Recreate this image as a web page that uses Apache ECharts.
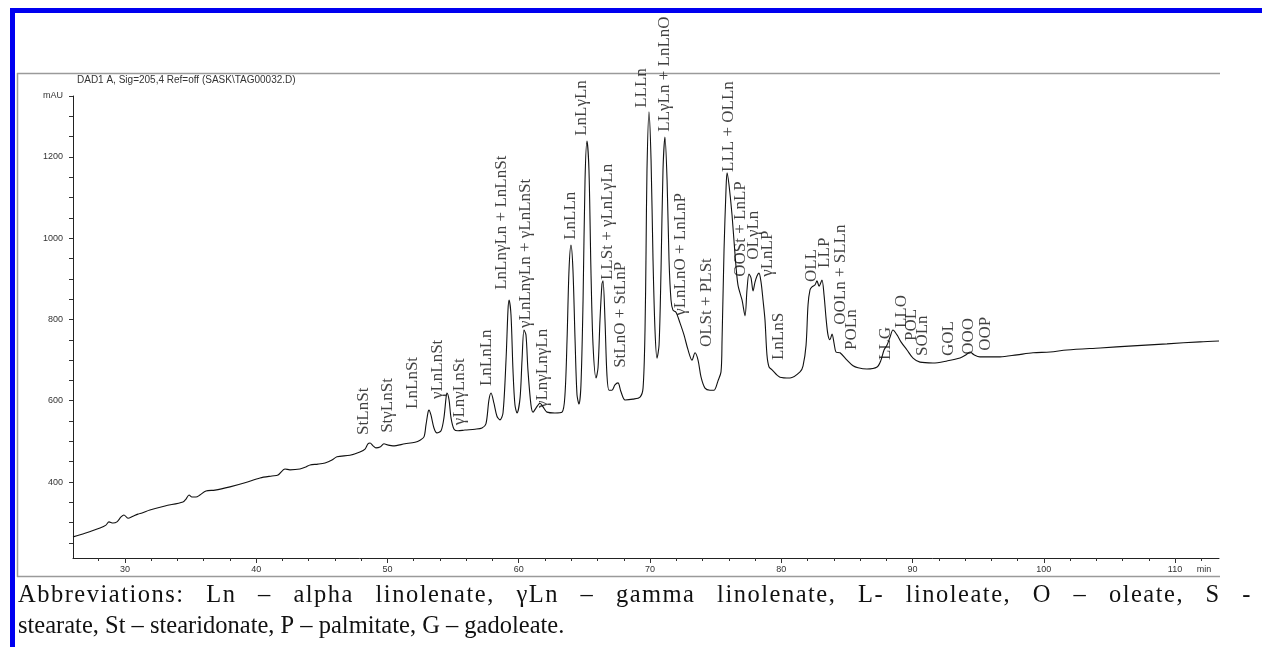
<!DOCTYPE html>
<html>
<head>
<meta charset="utf-8">
<title>TAG chromatogram</title>
<script src="https://cdn.jsdelivr.net/npm/echarts@6/dist/echarts.min.js"></script>
<style>
  html, body { margin: 0; padding: 0; background: #fff; }
  #chart { width: 1262px; height: 647px; }
</style>
</head>
<body>
<div id="chart"></div>
<script>
// retention time (min) and detector signal (mAU)
const timeMin = [
  26.04, 26.95, 28.10, 28.55, 28.78, 29.09, 29.39, 29.70, 29.92, 30.23,
  30.61, 30.99, 31.30, 31.90, 33.05, 34.42, 34.65, 34.88, 35.10, 35.41,
  35.71, 36.17, 36.86, 38.00, 39.14, 40.29, 41.20, 41.66, 42.19, 42.57,
  43.33, 43.79, 44.10, 44.70, 45.24, 45.77, 46.15, 47.14, 47.90, 48.29,
  48.51, 48.67, 48.90, 49.12, 49.43, 49.73, 50.04, 50.42, 51.33, 52.10,
  52.48, 52.78, 52.93, 53.09, 53.16, 53.31, 53.54, 53.77, 54.08, 54.30,
  54.46, 54.53, 54.69, 54.84, 55.07, 55.37, 55.90, 56.67, 57.20, 57.50,
  57.73, 57.89, 58.11, 58.34, 58.57, 58.80, 59.03, 59.18, 59.26, 59.41,
  59.56, 59.71, 59.87, 60.10, 60.25, 60.40, 60.55, 60.70, 60.93, 61.09,
  61.31, 61.62, 61.85, 62.15, 62.76, 63.30, 63.52, 63.68, 63.83, 63.98,
  64.13, 64.29, 64.44, 64.59, 64.74, 64.90, 65.05, 65.20, 65.35, 65.50,
  65.66, 65.89, 66.04, 66.19, 66.34, 66.42, 66.57, 66.72, 66.88, 67.10,
  67.33, 67.56, 67.79, 68.10, 68.70, 69.24, 69.47, 69.62, 69.70, 69.77,
  69.92, 70.08, 70.23, 70.38, 70.53, 70.69, 70.84, 70.99, 71.14, 71.30,
  71.45, 71.60, 71.75, 71.98, 72.29, 72.59, 72.90, 73.20, 73.43, 73.66,
  73.89, 74.19, 74.57, 74.88, 75.18, 75.41, 75.49, 75.64, 75.79, 75.87,
  76.02, 76.25, 76.48, 76.70, 77.01, 77.24, 77.39, 77.54, 77.70, 77.85,
  78.00, 78.15, 78.30, 78.46, 78.61, 78.76, 78.91, 79.07, 79.30, 79.90,
  80.67, 81.43, 81.66, 81.89, 82.04, 82.19, 82.34, 82.57, 82.72, 82.88,
  83.10, 83.26, 83.41, 83.56, 83.71, 83.87, 84.02, 84.17, 84.48, 85.01,
  85.47, 85.85, 86.53, 87.30, 87.60, 87.83, 88.06, 88.29, 88.51, 88.82,
  89.12, 89.58, 90.04, 90.57, 91.56, 92.63, 93.62, 94.08, 94.38, 94.69,
  95.14, 95.90, 96.67, 97.96, 99.18, 100.48, 101.77, 104.29, 106.80, 109.39,
  111.90, 113.35
];
const signalMau = [
  265, 274, 287, 294, 302, 299, 302, 314, 319, 311,
  316, 321, 324, 331, 341, 351, 358, 368, 363, 363,
  368, 378, 380, 388, 398, 410, 415, 417, 432, 430,
  432, 437, 442, 444, 447, 454, 462, 466, 474, 481,
  494, 496, 489, 484, 486, 494, 491, 489, 494, 498,
  503, 511, 540, 572, 577, 565, 533, 521, 526, 558,
  607, 619, 602, 558, 530, 526, 528, 530, 533, 543,
  602, 619, 594, 562, 553, 570, 700, 823, 848, 811,
  676, 590, 570, 607, 700, 774, 762, 676, 590, 572,
  582, 594, 585, 572, 570, 572, 614, 750, 922, 983,
  922, 750, 614, 592, 639, 848, 1143, 1239, 1168, 922,
  737, 656, 681, 799, 887, 895, 799, 663, 626, 626,
  639, 644, 622, 602, 604, 609, 631, 774, 971, 1168,
  1311, 1193, 946, 774, 705, 737, 922, 1168, 1249, 1143,
  946, 848, 823, 818, 791, 762, 725, 700, 718, 700,
  658, 631, 626, 626, 649, 671, 750, 971, 1119, 1161,
  1131, 1057, 959, 885, 848, 809, 873, 912, 902, 870,
  892, 907, 914, 892, 848, 799, 713, 683, 676, 658,
  656, 671, 686, 737, 836, 873, 880, 885, 895, 882,
  897, 860, 804, 762, 750, 764, 742, 720, 718, 700,
  686, 681, 678, 683, 700, 725, 737, 757, 774, 762,
  745, 725, 705, 695, 693, 698, 705, 713, 720, 713,
  708, 708, 708, 713, 718, 720, 725, 730, 735, 740,
  745, 747
];

// peak assignments: where each rotated label starts (time, mAU)
const peakNames = [
  'StLnSt', 'StγLnSt', 'LnLnSt', 'γLnLnSt', 'γLnγLnSt', 'LnLnLn',
  'LnLnγLn + LnLnSt', 'γLnLnγLn + γLnLnSt', 'γLnγLnγLn', 'LnLLn', 'LnLγLn',
  'LLSt + γLnLγLn', 'StLnO + StLnP', 'LLLn', 'LLγLn + LnLnO', 'γLnLnO + LnLnP',
  'OLSt + PLSt', 'LLL + OLLn', 'OOSt + LnLP', 'OLγLn', 'γLnLP', 'LnLnS',
  'OLL', 'LLP', 'OOLn + SLLn', 'POLn', 'LLG', 'LLO', 'POL', 'SOLn',
  'GOL', 'OOO', 'OOP'
];
const peakTime = [
  48.21, 50.04, 51.94, 53.85, 55.52, 57.58,
  58.72, 60.48, 61.85, 63.98, 64.82,
  66.80, 67.79, 69.39, 71.14, 72.36,
  74.27, 76.02, 76.93, 77.85, 78.99, 79.83,
  82.27, 83.33, 84.48, 85.39, 87.98, 89.20, 89.96, 90.80,
  92.78, 94.30, 95.60
];
const peakLabelMau = [
  516, 521, 580, 604, 540, 636,
  873, 779, 582, 996, 1252,
  897, 681, 1321, 1262, 809,
  732, 1163, 905, 947, 905, 700,
  892, 927, 787, 725, 700, 779, 747, 710,
  710, 713, 723
];

const xMinorTicks = [28, 30, 32, 34, 36, 38, 40, 42, 44, 46, 48, 50, 52, 54, 56, 58, 60, 62,
  64, 66, 68, 70, 72, 74, 76, 78, 80, 82, 84, 86, 88, 90, 92, 94, 96, 98, 100, 102, 104,
  106, 108, 110, 112];
const xMajorTicks = [30, 40, 50, 60, 70, 80, 90, 100, 110];
const yTicks = [250, 300, 350, 400, 450, 500, 550, 600, 650, 700, 750, 800, 850, 900, 950,
  1000, 1050, 1100, 1150, 1200, 1250, 1300, 1350];
const yLabels = [400, 600, 800, 1000, 1200, 1350];

const captionLine1 = 'Abbreviations: Ln – alpha linolenate, γLn – gamma linolenate, L- linoleate, O – oleate, S -';
const captionLine2 = 'stearate, St – stearidonate, P – palmitate, G – gadoleate.';

const X_MIN = 26.04, X_MAX = 113.35;
const UNIT_POS = 112.2;   // where "min" sits on the time axis

const chart = echarts.init(document.getElementById('chart'));

const axisFont = { color: '#333', fontSize: 9, fontFamily: 'Liberation Sans, Arial, sans-serif' };
const captionFont = '24.5px Liberation Serif, Times New Roman, serif';

// first caption line is justified in the original: a little extra room per
// letter, the rest goes into the word gaps so the line runs to the right edge
const justify = (text, font, targetWidth, letterExtra) => {
    const ctx = document.createElement('canvas').getContext('2d');
    ctx.font = font;
    const chars = Array.from(text);
    const spaces = chars.filter(c => c === ' ').length;
    let letterWidth = 0;
    chars.forEach(c => { if (c !== ' ') letterWidth += ctx.measureText(c).width + letterExtra; });
    const gap = (targetWidth - letterWidth) / spaces;
    const rich = {};
    const parts = chars.map((c, i) => {
        const key = 'c' + i;
        rich[key] = { font: font, fill: '#111', width: c === ' ' ? gap : ctx.measureText(c).width + letterExtra };
        return '{' + key + '|' + c + '}';
    });
    return { text: parts.join(''), rich: rich };
};
const line1 = justify(captionLine1, captionFont, 1234, 1.5);

const option = {
    animation: false,
    grid: { left: 73, right: 43, top: 96, bottom: 89 },
    xAxis: [
        {
            type: 'value', min: X_MIN, max: X_MAX,
            axisLine: { lineStyle: { color: '#222', width: 1 } },
            axisTick: { customValues: xMinorTicks, length: 3, lineStyle: { color: '#333' } },
            axisLabel: Object.assign({
                customValues: xMajorTicks.concat([UNIT_POS]),
                margin: 7,
                formatter: (v) => (v > 111 ? 'min' : String(v))
            }, axisFont),
            splitLine: { show: false }
        },
        {
            type: 'value', min: X_MIN, max: X_MAX, position: 'bottom',
            axisLine: { show: false },
            axisTick: { customValues: xMajorTicks, length: 5, lineStyle: { color: '#333' } },
            axisLabel: { show: false },
            splitLine: { show: false }
        }
    ],
    yAxis: {
        type: 'value', min: 213, max: 1350,
        axisLine: { show: true, lineStyle: { color: '#222', width: 1 } },
        axisTick: { show: true, customValues: yTicks, length: 4, lineStyle: { color: '#333' } },
        axisLabel: Object.assign({
            customValues: yLabels,
            margin: 10,
            formatter: (v) => (v === 1350 ? 'mAU' : String(v))
        }, axisFont),
        splitLine: { show: false }
    },
    series: [
        {
            type: 'line',
            data: timeMin.map((t, i) => [t, signalMau[i]]),
            showSymbol: false,
            smooth: 0.3,
            lineStyle: { color: '#111', width: 1.1 },
            z: 3
        },
        {
            type: 'scatter',
            data: peakNames.map((n, i) => ({ name: n, value: [peakTime[i], peakLabelMau[i]] })),
            symbolSize: 1,
            itemStyle: { color: 'rgba(0,0,0,0)' },
            label: {
                show: true,
                position: 'inside',
                align: 'left',
                verticalAlign: 'middle',
                rotate: 90,
                formatter: (p) => p.name,
                color: '#111',
                fontSize: 17,
                fontFamily: 'Liberation Serif, Times New Roman, serif'
            },
            z: 4
        }
    ],
    graphic: [
        // blue page border (top + left)
        { type: 'rect', shape: { x: 10, y: 8, width: 1252, height: 5 }, style: { fill: '#0000f0' }, z: 10 },
        { type: 'rect', shape: { x: 10, y: 8, width: 5, height: 639 }, style: { fill: '#0000f0' }, z: 10 },
        // grey frame of the instrument printout
        { type: 'line', shape: { x1: 17, y1: 73.5, x2: 1220, y2: 73.5 }, style: { stroke: '#9a9a9a', lineWidth: 1.5 } },
        { type: 'line', shape: { x1: 17.5, y1: 73, x2: 17.5, y2: 577 }, style: { stroke: '#9a9a9a', lineWidth: 1.5 } },
        { type: 'line', shape: { x1: 17, y1: 576.5, x2: 1220, y2: 576.5 }, style: { stroke: '#9a9a9a', lineWidth: 1.5 } },
        {
            type: 'text', left: 77, top: 75,
            style: { text: 'DAD1 A, Sig=205,4 Ref=off (SASK\\TAG00032.D)', fill: '#333', font: '10px Liberation Sans, Arial, sans-serif' }
        },
        {
            type: 'text', left: 18, top: 583,
            style: { text: line1.text, rich: line1.rich, fill: '#111', font: captionFont }
        },
        {
            type: 'text', left: 18, top: 614,
            style: { text: captionLine2, fill: '#111', font: captionFont }
        }
    ]
};

chart.setOption(option);
</script>
</body>
</html>
